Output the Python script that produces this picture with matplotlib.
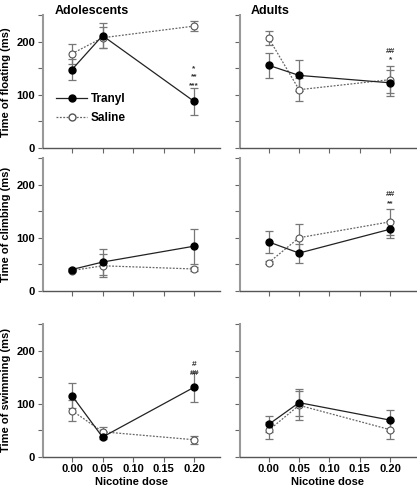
import numpy as np
import matplotlib
matplotlib.use("Agg")
import matplotlib.pyplot as plt
from matplotlib.lines import Line2D

plt.rcParams['font.family'] = ['Liberation Sans', 'DejaVu Sans']
plt.rcParams['font.weight'] = 'bold'

doses = [0.00, 0.05, 0.20]
xticks = [0.00, 0.05, 0.10, 0.15, 0.20]

# adolescents
adol_float_tranyl = [148, 212, 88]
adol_float_tranyl_err = [19, 24, 25]
adol_float_saline = [178, 208, 230]
adol_float_saline_err = [19, 20, 9]

adol_climb_tranyl = [40, 54, 84]
adol_climb_tranyl_err = [3, 24, 33]
adol_climb_saline = [38, 47, 41]
adol_climb_saline_err = [3, 22, 3]

adol_swim_tranyl = [115, 37, 131]
adol_swim_tranyl_err = [24, 3, 28]
adol_swim_saline = [87, 47, 32]
adol_swim_saline_err = [20, 9, 8]

# adults
adult_float_tranyl = [156, 137, 123]
adult_float_tranyl_err = [24, 29, 25]
adult_float_saline = [207, 110, 129]
adult_float_saline_err = [13, 22, 25]

adult_climb_tranyl = [92, 71, 116]
adult_climb_tranyl_err = [21, 18, 16]
adult_climb_saline = [53, 100, 130]
adult_climb_saline_err = [3, 25, 24]

adult_swim_tranyl = [61, 102, 69]
adult_swim_tranyl_err = [15, 25, 20]
adult_swim_saline = [50, 97, 51]
adult_swim_saline_err = [16, 27, 17]

row_labels = ["Time of floating (ms)", "Time of climbing (ms)", "Time of swimming (ms)"]

panels = [
    [(adol_float_tranyl, adol_float_tranyl_err, adol_float_saline, adol_float_saline_err),
     (adult_float_tranyl, adult_float_tranyl_err, adult_float_saline, adult_float_saline_err)],
    [(adol_climb_tranyl, adol_climb_tranyl_err, adol_climb_saline, adol_climb_saline_err),
     (adult_climb_tranyl, adult_climb_tranyl_err, adult_climb_saline, adult_climb_saline_err)],
    [(adol_swim_tranyl, adol_swim_tranyl_err, adol_swim_saline, adol_swim_saline_err),
     (adult_swim_tranyl, adult_swim_tranyl_err, adult_swim_saline, adult_swim_saline_err)],
]

# significance marks: (row, col, y, text)
marks = [
    (0, 0, 150, "*"), (0, 0, 134, "**"), (0, 0, 118, "***"),
    (0, 1, 183, "##"), (0, 1, 166, "*"),
    (1, 1, 181, "##"), (1, 1, 164, "**"),
    (2, 0, 174, "#"), (2, 0, 157, "##"),
]

W, H = 417, 488
fig = plt.figure(figsize=(W / 100, H / 100), dpi=100)

xlim = (-0.048, 0.242)
lefts = [42.7 / W, 239.6 / W]
widths = [177 / W, 176 / W]
bottoms = [1 - 148 / H, 1 - 290.7 / H, 1 - 456.7 / H]
height = 132.5 / H

axes = []
for r in range(3):
    for c in range(2):
        ax = fig.add_axes([lefts[c], bottoms[r], widths[c], height])
        tr, tr_err, sa, sa_err = panels[r][c]
        ax.errorbar(doses, sa, yerr=sa_err, fmt='none', ecolor='#777777',
                    elinewidth=0.9, capsize=3, capthick=0.9, zorder=2)
        ax.errorbar(doses, tr, yerr=tr_err, fmt='none', ecolor='#777777',
                    elinewidth=0.9, capsize=3, capthick=0.9, zorder=2)
        ax.plot(doses, sa, ls=(0, (1.5, 1.2)), color='#666666', lw=0.9,
                marker='o', ms=5, mfc='white', mec='#555555', mew=0.8, zorder=3)
        ax.plot(doses, tr, ls='-', color='#222222', lw=0.9,
                marker='o', ms=5, mfc='black', mec='black', zorder=4)
        ax.set_xlim(*xlim)
        ax.set_ylim(0, 250)
        ax.set_xticks(xticks)
        ax.set_yticks([0, 100, 200])
        ax.set_yticks([50, 150, 250], minor=True)
        for s in ['top', 'right']:
            ax.spines[s].set_visible(False)
        ax.spines['left'].set_color('#999999')
        ax.spines['left'].set_linewidth(1.5)
        ax.spines['bottom'].set_color('#555555')
        ax.spines['bottom'].set_linewidth(1.0)
        ax.tick_params(which='both', direction='out', length=3.5, width=0.8,
                       color='#666666', labelsize=8, pad=2)
        if c == 1:
            ax.set_yticklabels([])
        else:
            ax.set_ylabel(row_labels[r], fontsize=8, fontweight='bold', labelpad=4)
        if r < 2:
            ax.set_xticklabels([])
        else:
            ax.set_xticklabels(["%.2f" % v for v in xticks])
            ax.set_xlabel("Nicotine dose", fontsize=8, fontweight='bold', labelpad=2)
        axes.append(ax)

for r, c, y, t in marks:
    axes[r * 2 + c].text(0.20, y, t, ha='center', va='center', fontsize=6,
                         color='#333333')

fig.text(55 / W, 1 - 11 / H, "Adolescents", fontsize=9, fontweight='bold', va='center')
fig.text(251 / W, 1 - 11 / H, "Adults", fontsize=9, fontweight='bold', va='center')

handles = [
    Line2D([], [], ls='-', color='#222222', lw=0.9, marker='o', ms=5, mfc='black', mec='black'),
    Line2D([], [], ls=(0, (1.5, 1.2)), color='#666666', lw=0.9, marker='o', ms=5,
           mfc='white', mec='#555555'),
]
axes[0].legend(handles, ["Tranyl", "Saline"], loc='lower left', bbox_to_anchor=(0.03, 0.12),
               frameon=False, fontsize=8.5, handlelength=2.6, handletextpad=0.3,
               labelspacing=0.6, borderpad=0.2)

fig.savefig("out.png", dpi=100)
